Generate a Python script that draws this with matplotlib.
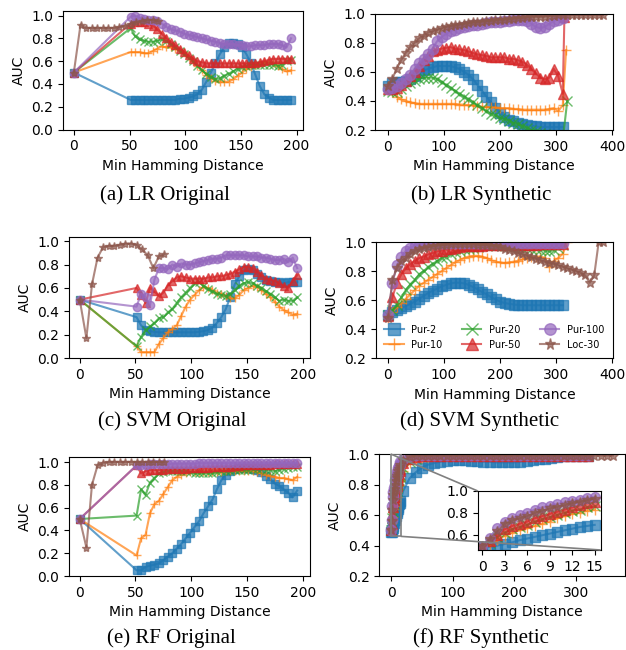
import numpy as np
import matplotlib.pyplot as plt
from mpl_toolkits.axes_grid1.inset_locator import mark_inset

plt.rcParams['font.family'] = 'DejaVu Sans'
plt.rcParams['font.size'] = 10

labels = ["Pur-2", "Pur-10", "Pur-20", "Pur-50", "Pur-100", "Loc-30"]

# x grids (min Hamming distance)
orig_x = [0] + list(range(51, 196, 4))
orig_loc_x = [0, 6, 11, 16, 21, 26, 31, 36, 41, 46, 51, 56, 61, 66, 71, 76]
syn_x = list(range(0, 313, 8))
syn_loc_x = list(range(0, 385, 8))
rf_syn_x = list(range(16)) + list(range(20, 321, 10))
rf_syn_loc_x = list(range(16)) + list(range(20, 361, 10))

# (a) LR original
lr_orig = [
    [0.50, 0.26, 0.26, 0.26, 0.26, 0.26, 0.26, 0.26, 0.26, 0.26,
     0.26, 0.26, 0.27, 0.27, 0.28, 0.29, 0.31, 0.35, 0.42, 0.50,
     0.58, 0.66, 0.72, 0.76, 0.76, 0.75, 0.72, 0.66, 0.58, 0.48,
     0.38, 0.31, 0.28, 0.26, 0.26, 0.26, 0.26, 0.26],
    [0.50, 0.68, 0.68, 0.68, 0.67, 0.67, 0.69, 0.71, 0.73, 0.72,
     0.72, 0.71, 0.70, 0.68, 0.64, 0.60, 0.56, 0.52, 0.48, 0.45,
     0.43, 0.42, 0.42, 0.42, 0.44, 0.47, 0.50, 0.53, 0.55, 0.57,
     0.58, 0.59, 0.59, 0.58, 0.56, 0.53, 0.51, 0.52],
    [0.50, 0.89, 0.82, 0.79, 0.78, 0.77, 0.77, 0.78, 0.79, 0.78,
     0.75, 0.72, 0.69, 0.66, 0.63, 0.60, 0.56, 0.52, 0.49, 0.46,
     0.44, 0.45, 0.47, 0.49, 0.51, 0.53, 0.55, 0.56, 0.57, 0.57,
     0.57, 0.57, 0.57, 0.57, 0.56, 0.57, 0.60, 0.61],
    [0.50, 0.93, 0.94, 0.94, 0.94, 0.93, 0.91, 0.88, 0.84, 0.80,
     0.77, 0.74, 0.71, 0.68, 0.65, 0.62, 0.60, 0.59, 0.58, 0.58,
     0.58, 0.58, 0.58, 0.58, 0.58, 0.58, 0.58, 0.58, 0.58, 0.58,
     0.59, 0.60, 0.61, 0.62, 0.62, 0.62, 0.62, 0.62],
    [0.50, 0.99, 1.00, 0.98, 0.97, 0.96, 0.96, 0.95, 0.93, 0.90,
     0.88, 0.87, 0.86, 0.84, 0.83, 0.82, 0.81, 0.80, 0.79, 0.78,
     0.77, 0.76, 0.75, 0.75, 0.75, 0.74, 0.74, 0.73, 0.73, 0.74,
     0.74, 0.74, 0.75, 0.75, 0.75, 0.74, 0.72, 0.80],
]
lr_orig_loc = [0.50, 0.92, 0.89, 0.89, 0.89, 0.89, 0.89, 0.89,
               0.90, 0.91, 0.93, 0.94, 0.95, 0.96, 0.96, 0.95]

# (b) LR synthetic
lr_syn = [
    [0.50, 0.52, 0.53, 0.53, 0.54, 0.55, 0.57, 0.59, 0.61, 0.62,
     0.63, 0.64, 0.64, 0.64, 0.64, 0.63, 0.62, 0.60, 0.58, 0.55,
     0.51, 0.47, 0.43, 0.39, 0.35, 0.32, 0.29, 0.27, 0.26, 0.25,
     0.24, 0.235, 0.23, 0.225, 0.22, 0.22, 0.22, 0.22, 0.22, 0.22],
    [0.50, 0.46, 0.43, 0.41, 0.40, 0.39, 0.385, 0.38, 0.38, 0.38,
     0.38, 0.38, 0.38, 0.38, 0.38, 0.38, 0.375, 0.375, 0.37, 0.37,
     0.365, 0.36, 0.36, 0.355, 0.355, 0.35, 0.35, 0.35, 0.345, 0.345,
     0.34, 0.34, 0.34, 0.34, 0.34, 0.34, 0.345, 0.35, 0.33, 0.37, 0.75],
    [0.47, 0.46, 0.46, 0.48, 0.50, 0.52, 0.54, 0.55, 0.56, 0.56,
     0.56, 0.55, 0.53, 0.51, 0.49, 0.47, 0.45, 0.43, 0.41, 0.39,
     0.37, 0.35, 0.33, 0.31, 0.30, 0.285, 0.275, 0.265, 0.25, 0.24,
     0.23, 0.215, 0.20, 0.19, 0.18, 0.17, 0.16, 0.15, 0.14, 0.13, 0.40],
    [0.48, 0.48, 0.49, 0.51, 0.54, 0.57, 0.60, 0.64, 0.68, 0.71,
     0.74, 0.75, 0.76, 0.765, 0.77, 0.76, 0.755, 0.75, 0.74, 0.73,
     0.72, 0.715, 0.71, 0.70, 0.70, 0.70, 0.70, 0.69, 0.69, 0.68,
     0.67, 0.65, 0.62, 0.59, 0.56, 0.55, 0.56, 0.62, 0.57, 0.45, 0.98],
    [0.48, 0.49, 0.50, 0.52, 0.55, 0.58, 0.62, 0.66, 0.69, 0.72,
     0.76, 0.81, 0.84, 0.86, 0.88, 0.89, 0.90, 0.91, 0.915, 0.92,
     0.925, 0.93, 0.935, 0.94, 0.94, 0.945, 0.95, 0.95, 0.955, 0.955,
     0.955, 0.95, 0.93, 0.91, 0.90, 0.91, 0.93, 0.95, 0.96, 0.97],
]
lr_syn_loc = [0.50, 0.55, 0.62, 0.68, 0.73, 0.77, 0.80, 0.83, 0.85, 0.87,
              0.88, 0.89, 0.90, 0.91, 0.915, 0.92, 0.925, 0.93, 0.935, 0.94,
              0.94, 0.945, 0.95, 0.95, 0.955, 0.96, 0.96, 0.965, 0.965, 0.97,
              0.97, 0.975, 0.975, 0.98, 0.98, 0.98, 0.985, 0.985, 0.99, 0.99,
              0.99, 0.99, 0.99, 0.99, 0.99, 0.99, 0.99, 0.99, 0.99]

# (c) SVM original
svm_orig = [
    [0.50, 0.35, 0.28, 0.24, 0.23, 0.225, 0.22, 0.22, 0.22, 0.22,
     0.22, 0.22, 0.22, 0.22, 0.22, 0.225, 0.23, 0.24, 0.26, 0.30,
     0.35, 0.42, 0.52, 0.63, 0.70, 0.75, 0.76, 0.75, 0.72, 0.69,
     0.67, 0.66, 0.65, 0.65, 0.64, 0.65, 0.65, 0.65],
    [0.50, 0.10, 0.05, 0.05, 0.05, 0.05, 0.12, 0.17, 0.22, 0.25,
     0.28, 0.36, 0.44, 0.50, 0.54, 0.58, 0.61, 0.60, 0.58, 0.56,
     0.55, 0.53, 0.51, 0.51, 0.54, 0.58, 0.60, 0.62, 0.61, 0.58,
     0.55, 0.52, 0.48, 0.44, 0.41, 0.39, 0.37, 0.38],
    [0.50, 0.10, 0.18, 0.24, 0.27, 0.30, 0.34, 0.35, 0.39, 0.42,
     0.47, 0.52, 0.56, 0.60, 0.64, 0.65, 0.62, 0.59, 0.57, 0.55,
     0.54, 0.53, 0.55, 0.58, 0.62, 0.64, 0.65, 0.64, 0.62, 0.60,
     0.57, 0.55, 0.52, 0.49, 0.50, 0.49, 0.49, 0.52],
    [0.50, 0.60, 0.54, 0.47, 0.60, 0.57, 0.53, 0.56, 0.62, 0.66,
     0.69, 0.70, 0.69, 0.68, 0.68, 0.68, 0.68, 0.69, 0.69, 0.70,
     0.70, 0.71, 0.72, 0.74, 0.76, 0.78, 0.78, 0.77, 0.74, 0.71,
     0.68, 0.67, 0.66, 0.64, 0.62, 0.60, 0.66, 0.71],
    [0.50, 0.44, 0.55, 0.52, 0.45, 0.67, 0.77, 0.77, 0.76, 0.80,
     0.78, 0.81, 0.80, 0.80, 0.81, 0.82, 0.83, 0.84, 0.85, 0.85,
     0.86, 0.88, 0.88, 0.88, 0.88, 0.88, 0.87, 0.87, 0.87, 0.86,
     0.86, 0.85, 0.84, 0.84, 0.85, 0.82, 0.86, 0.77],
]
svm_orig_loc = [0.50, 0.17, 0.63, 0.86, 0.95, 0.96, 0.96, 0.97,
                0.98, 0.98, 0.97, 0.93, 0.88, 0.77, 0.87, 0.89]

# (d) SVM synthetic
svm_syn = [
    [0.50, 0.52, 0.53, 0.545, 0.56, 0.575, 0.59, 0.61, 0.63, 0.65,
     0.665, 0.68, 0.695, 0.705, 0.715, 0.72, 0.72, 0.715, 0.705, 0.69,
     0.675, 0.655, 0.64, 0.62, 0.605, 0.59, 0.58, 0.575, 0.57, 0.567,
     0.565, 0.565, 0.565, 0.565, 0.565, 0.565, 0.565, 0.565, 0.565, 0.565],
    [0.48, 0.52, 0.55, 0.58, 0.61, 0.64, 0.67, 0.70, 0.72, 0.74,
     0.76, 0.78, 0.80, 0.82, 0.84, 0.86, 0.875, 0.89, 0.90, 0.905,
     0.905, 0.90, 0.89, 0.875, 0.865, 0.86, 0.855, 0.86, 0.865, 0.87,
     0.88, 0.89, 0.895, 0.90, 0.90, 0.89, 0.83, 0.87, 0.89, 0.92, 1.00],
    [0.50, 0.53, 0.57, 0.62, 0.67, 0.71, 0.74, 0.78, 0.80, 0.83,
     0.85, 0.87, 0.89, 0.90, 0.92, 0.93, 0.94, 0.95, 0.955, 0.96,
     0.965, 0.97, 0.975, 0.98, 0.98, 0.98, 0.975, 0.97, 0.97, 0.965,
     0.96, 0.96, 0.955, 0.95, 0.945, 0.94, 0.935, 0.945, 0.96, 0.98],
    [0.49, 0.62, 0.72, 0.78, 0.82, 0.85, 0.87, 0.89, 0.90, 0.915,
     0.925, 0.935, 0.94, 0.95, 0.955, 0.96, 0.965, 0.97, 0.97, 0.975,
     0.975, 0.975, 0.98, 0.98, 0.98, 0.98, 0.98, 0.98, 0.98, 0.98,
     0.98, 0.98, 0.98, 0.98, 0.985, 0.985, 0.985, 0.985, 0.985, 0.985],
    [0.50, 0.72, 0.84, 0.90, 0.94, 0.96, 0.975, 0.98, 0.985, 0.985,
     0.99, 0.99, 0.99, 0.99, 0.99, 0.99, 0.99, 0.99, 0.99, 0.99,
     0.99, 0.99, 0.99, 0.99, 0.99, 0.99, 0.99, 0.99, 0.99, 0.99,
     0.99, 0.99, 0.99, 0.99, 0.99, 0.99, 0.99, 0.99, 0.99, 0.99],
]
svm_syn_loc = [0.48, 0.74, 0.82, 0.87, 0.89, 0.92, 0.94, 0.95, 0.96, 0.965,
               0.97, 0.975, 0.98, 0.98, 0.985, 0.985, 0.985, 0.985, 0.985, 0.985,
               0.98, 0.98, 0.98, 0.975, 0.97, 0.965, 0.955, 0.945, 0.935, 0.925,
               0.915, 0.905, 0.895, 0.885, 0.875, 0.865, 0.855, 0.85, 0.84, 0.83,
               0.82, 0.81, 0.80, 0.79, 0.77, 0.72, 0.77, 1.00, 1.00]

# (e) RF original
rf_orig = [
    [0.50, 0.05, 0.05, 0.08, 0.09, 0.10, 0.11, 0.14, 0.17, 0.20,
     0.24, 0.28, 0.33, 0.38, 0.43, 0.48, 0.55, 0.61, 0.67, 0.76,
     0.84, 0.89, 0.92, 0.94, 0.95, 0.95, 0.95, 0.94, 0.93, 0.91,
     0.88, 0.85, 0.81, 0.79, 0.76, 0.73, 0.69, 0.75],
    [0.50, 0.18, 0.33, 0.36, 0.55, 0.63, 0.66, 0.72, 0.78, 0.84,
     0.87, 0.89, 0.90, 0.91, 0.91, 0.91, 0.91, 0.91, 0.91, 0.91,
     0.91, 0.92, 0.92, 0.92, 0.92, 0.92, 0.92, 0.92, 0.91, 0.90,
     0.89, 0.88, 0.87, 0.86, 0.86, 0.85, 0.84, 0.87],
    [0.50, 0.53, 0.76, 0.71, 0.82, 0.86, 0.90, 0.91, 0.92, 0.92,
     0.92, 0.92, 0.92, 0.91, 0.90, 0.90, 0.90, 0.90, 0.90, 0.91,
     0.92, 0.92, 0.92, 0.93, 0.93, 0.93, 0.93, 0.94, 0.94, 0.94,
     0.93, 0.93, 0.92, 0.93, 0.94, 0.95, 0.96, 0.96],
    [0.50, 0.97, 0.90, 0.92, 0.93, 0.93, 0.93, 0.93, 0.935, 0.94,
     0.94, 0.94, 0.94, 0.945, 0.945, 0.95, 0.95, 0.95, 0.955, 0.955,
     0.96, 0.96, 0.96, 0.965, 0.965, 0.97, 0.97, 0.97, 0.97, 0.975,
     0.975, 0.975, 0.98, 0.98, 0.98, 0.98, 0.98, 0.98],
    [0.50, 0.97, 0.97, 0.975, 0.98, 0.98, 0.98, 0.98, 0.98, 0.985,
     0.985, 0.985, 0.985, 0.985, 0.985, 0.99, 0.99, 0.99, 0.99, 0.99,
     0.99, 0.99, 0.99, 0.99, 0.99, 0.99, 0.99, 0.99, 0.99, 0.99,
     0.99, 0.99, 0.99, 0.99, 0.99, 0.99, 0.99, 0.99],
]
rf_orig_loc = [0.50, 0.25, 0.80, 0.97, 0.995, 1.00, 1.00, 1.00,
               1.00, 1.00, 1.00, 1.00, 1.00, 1.00, 1.00, 1.00]

# (f) RF synthetic: first 16 values are x = 0..15 (shown in the inset)
rf_syn = [
    [0.49, 0.49, 0.50, 0.515, 0.53, 0.55, 0.565, 0.58, 0.595, 0.61,
     0.625, 0.64, 0.655, 0.67, 0.68, 0.69,
     0.76, 0.84, 0.88, 0.91, 0.93, 0.94, 0.95, 0.955, 0.96, 0.96,
     0.96, 0.955, 0.955, 0.95, 0.95, 0.945, 0.945, 0.945, 0.945, 0.95,
     0.955, 0.96, 0.965, 0.97, 0.975, 0.98, 0.985, 0.985, 0.99, 0.99, 0.99],
    [0.50, 0.51, 0.55, 0.59, 0.62, 0.64, 0.66, 0.68, 0.70, 0.72,
     0.75, 0.77, 0.79, 0.80, 0.82, 0.83,
     0.89, 0.94, 0.96, 0.975, 0.98, 0.985, 0.99, 0.99, 0.99, 0.99,
     0.99, 0.99, 0.99, 0.99, 0.99, 0.99, 0.99, 0.99, 0.99, 0.99,
     0.99, 0.99, 0.99, 0.99, 0.99, 0.99, 0.99, 0.99, 0.99, 0.99, 0.99],
    [0.50, 0.52, 0.58, 0.62, 0.65, 0.67, 0.69, 0.72, 0.74, 0.76,
     0.78, 0.80, 0.82, 0.83, 0.85, 0.86,
     0.91, 0.95, 0.97, 0.98, 0.985, 0.99, 0.99, 0.99, 0.99, 0.99,
     0.99, 0.99, 0.99, 0.99, 0.99, 0.99, 0.99, 0.99, 0.99, 0.99,
     0.99, 0.99, 0.99, 0.99, 0.99, 0.99, 0.99, 0.99, 0.99, 0.99, 0.99],
    [0.50, 0.54, 0.60, 0.65, 0.68, 0.70, 0.72, 0.75, 0.77, 0.79,
     0.81, 0.83, 0.85, 0.87, 0.89, 0.90,
     0.94, 0.97, 0.98, 0.985, 0.99, 0.99, 0.99, 0.99, 0.99, 0.99,
     0.99, 0.99, 0.99, 0.99, 0.99, 0.99, 0.99, 0.99, 0.99, 0.99,
     0.99, 0.99, 0.99, 0.99, 0.99, 0.99, 0.99, 0.99, 0.99, 0.99, 0.99],
    [0.50, 0.57, 0.66, 0.72, 0.75, 0.78, 0.80, 0.83, 0.85, 0.865,
     0.88, 0.895, 0.91, 0.92, 0.935, 0.945,
     0.97, 0.985, 0.995, 0.995, 0.995, 0.995, 0.995, 0.995, 0.995, 0.995,
     0.995, 0.995, 0.995, 0.995, 0.995, 0.995, 0.995, 0.995, 0.995, 0.995,
     0.995, 0.995, 0.995, 0.995, 0.995, 0.995, 0.995, 0.995, 0.995, 0.995, 0.995],
]
rf_syn_loc = [0.50, 0.56, 0.63, 0.70, 0.73, 0.75, 0.77, 0.80, 0.82, 0.84,
              0.855, 0.87, 0.89, 0.90, 0.915, 0.93,
              0.96, 0.98, 0.99, 0.99, 0.99, 0.99, 0.99, 0.99, 0.99, 0.99,
              0.99, 0.99, 0.99, 0.99, 0.99, 0.99, 0.99, 0.99, 0.99, 0.99,
              0.99, 0.99, 0.99, 0.99, 0.99, 0.99, 0.99, 0.99, 0.99, 0.99,
              0.99, 0.99, 0.99, 0.99, 0.99]

colors = ['C0', 'C1', 'C2', 'C3', 'C4', 'C5']
markers = ['s', '+', 'x', '^', 'o', '*']

W, H = 626, 650
fig = plt.figure(figsize=(W / 100, H / 100), dpi=100)


def add_ax(l, t, r, b):
    return fig.add_axes([l / W, 1 - b / H, (r - l) / W, (b - t) / H])


def draw(ax, series, ms):
    for (x, y), c, m, lab in zip(series, colors, markers, labels):
        ax.plot(x, y, color=c, marker=m, ms=ms, lw=1.5, alpha=0.7, label=lab)
    ax.set_xlabel("Min Hamming Distance")
    ax.set_ylabel("AUC")


def tail_x(x, extra):
    return list(x) + [extra]


# (a)
ax = add_ax(62.7, 11, 302.7, 129.5)
draw(ax, [(orig_x, v) for v in lr_orig] + [(orig_loc_x, lr_orig_loc)], 6)
ax.set_xlim(-10, 205.5)
ax.set_ylim(0, 1.04)
ax.set_xticks([0, 50, 100, 150, 200])
ax.set_yticks([0, 0.2, 0.4, 0.6, 0.8, 1.0])

# (b)
ax = add_ax(375.3, 13.7, 612.7, 130)
draw(ax, [(syn_x, lr_syn[0]), (tail_x(syn_x, 318), lr_syn[1]),
          (tail_x(syn_x, 320), lr_syn[2]), (tail_x(syn_x, 315), lr_syn[3]),
          (syn_x, lr_syn[4]), (syn_loc_x, lr_syn_loc)], 7.5)
ax.set_xlim(-22, 401)
ax.set_ylim(0.2, 1.0)
ax.set_xticks([0, 100, 200, 300, 400])
ax.set_yticks([0.2, 0.4, 0.6, 0.8, 1.0])

# (c)
ax = add_ax(69, 237.3, 310, 358)
draw(ax, [(orig_x, v) for v in svm_orig] + [(orig_loc_x, svm_orig_loc)], 6)
ax.set_xlim(-9.6, 206.5)
ax.set_ylim(0, 1.034)
ax.set_xticks([0, 50, 100, 150, 200])
ax.set_yticks([0, 0.2, 0.4, 0.6, 0.8, 1.0])

# (d)
ax = add_ax(376, 242, 612.7, 358.3)
draw(ax, [(syn_x, svm_syn[0]), (tail_x(syn_x, 320), svm_syn[1]),
          (syn_x, svm_syn[2]), (syn_x, svm_syn[3]),
          (syn_x, svm_syn[4]), (syn_loc_x, svm_syn_loc)], 7.5)
ax.set_xlim(-21.4, 401)
ax.set_ylim(0.2, 1.0)
ax.set_xticks([0, 100, 200, 300, 400])
ax.set_yticks([0.2, 0.4, 0.6, 0.8, 1.0])
ax.legend(ncol=3, loc='lower center', fontsize=7, frameon=False, markerscale=1.1)

# (e)
ax = add_ax(69, 457, 310, 576)
draw(ax, [(orig_x, v) for v in rf_orig] + [(orig_loc_x, rf_orig_loc)], 6)
ax.set_xlim(-9.6, 206.5)
ax.set_ylim(0, 1.044)
ax.set_xticks([0, 50, 100, 150, 200])
ax.set_yticks([0, 0.2, 0.4, 0.6, 0.8, 1.0])

# (f) with zoomed inset
ax = add_ax(379.3, 454, 625.3, 576)
series_f = [(rf_syn_x, v) for v in rf_syn] + [(rf_syn_loc_x, rf_syn_loc)]
draw(ax, series_f, 7.5)
ax.set_xlim(-19, 380)
ax.set_ylim(0.2, 1.0)
ax.set_xticks([0, 100, 200, 300])
ax.set_yticks([0.2, 0.4, 0.6, 0.8, 1.0])

axins = ax.inset_axes([0.40, 0.213, 0.50, 0.484])
for (x, y), c, m in zip(series_f, colors, markers):
    axins.plot(x[:16], y[:16], color=c, marker=m, ms=7, lw=1.5, alpha=0.7)
axins.set_xlim(-0.6, 15.8)
axins.set_ylim(0.46, 1.0)
axins.set_xticks([0, 3, 6, 9, 12, 15])
axins.set_yticks([0.6, 0.8, 1.0])
pp, p1, p2 = mark_inset(ax, axins, loc1=2, loc2=4, fc='none', ec='0.5', lw=1.2)
for p in (pp, p1, p2):
    p.set_zorder(6)

# sub-captions
caps = [("(a) LR Original", 165, 195), ("(b) LR Synthetic", 481, 195),
        ("(c) SVM Original", 172, 421), ("(d) SVM Synthetic", 480, 421),
        ("(e) RF Original", 171, 638), ("(f) RF Synthetic", 481, 638)]
for txt, cx, cy in caps:
    fig.text(cx / W, 1 - cy / H, txt, ha='center', va='center',
             family='Liberation Serif', fontsize=15)

fig.savefig("out.png", dpi=100)
